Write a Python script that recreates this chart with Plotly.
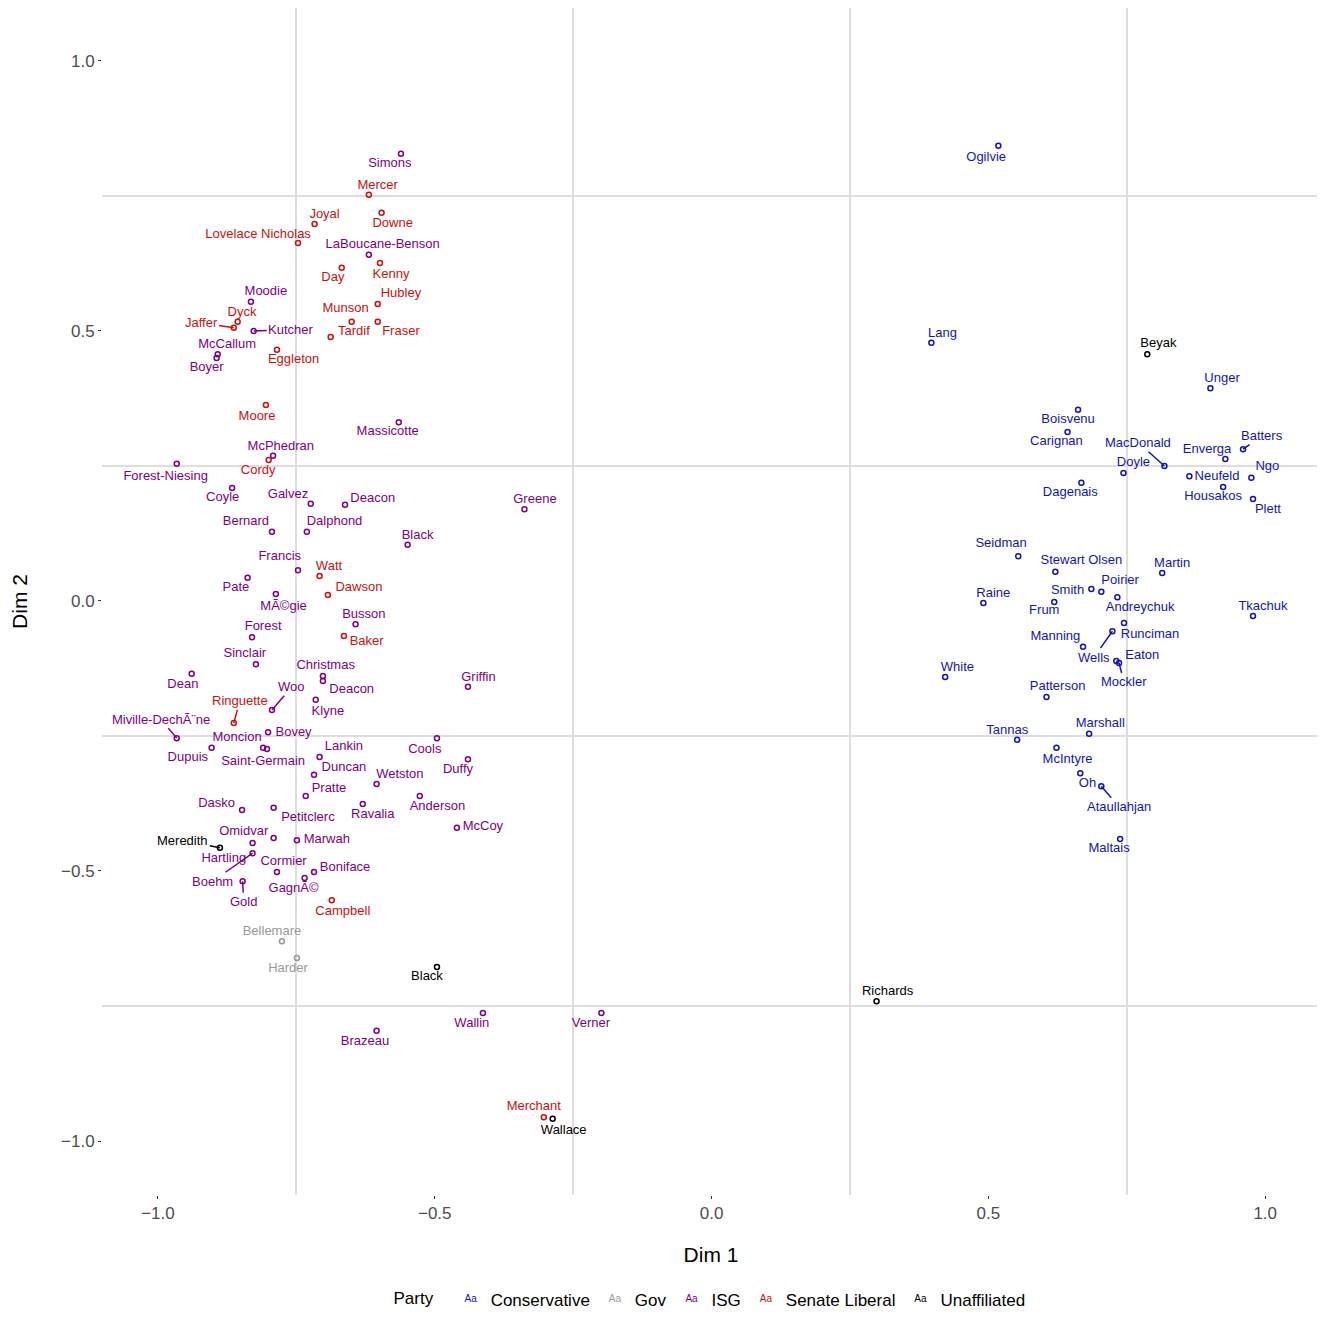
import plotly.graph_objects as go

# Senators on the two scaling dimensions, with the place each name label sits
senator = ["Mercer", "Joyal", "Downe", "Lovelace Nicholas", "Kenny", "Day", "Hubley", "Munson",
           "Fraser", "Tardif", "Dyck", "Jaffer", "Eggleton", "Moore", "Cordy", "Watt", "Dawson",
           "Baker", "Ringuette", "Campbell", "Merchant",
           "Simons", "LaBoucane-Benson", "Moodie", "Kutcher", "McCallum", "Boyer", "Massicotte",
           "McPhedran", "Forest-Niesing", "Coyle", "Galvez", "Deacon", "Bernard", "Dalphond",
           "Black", "Greene", "Francis", "Pate", "MÃ©gie", "Busson", "Forest", "Sinclair", "Dean",
           "Christmas", "Deacon", "Woo", "Klyne", "Miville-DechÃ¨ne", "Bovey", "Moncion",
           "Saint-Germain", "Dupuis", "Lankin", "Duncan", "Cools", "Griffin", "Duffy", "Wetston",
           "Pratte", "Anderson", "McCoy", "Dasko", "Petitclerc", "Ravalia", "Omidvar", "Marwah",
           "Hartling", "Cormier", "Boniface", "GagnÃ©", "Boehm", "Gold", "Wallin", "Verner",
           "Brazeau",
           "Bellemare", "Harder",
           "Meredith", "Black", "Wallace", "Richards", "Beyak",
           "Ogilvie", "Lang", "Unger", "Boisvenu", "Carignan", "MacDonald", "Doyle", "Enverga",
           "Batters", "Ngo", "Neufeld", "Housakos", "Plett", "Dagenais", "Seidman",
           "Stewart Olsen", "Martin", "Smith", "Poirier", "Andreychuk", "Raine", "Frum", "Tkachuk",
           "Runciman", "Wells", "Manning", "Eaton", "Mockler", "White", "Patterson", "Marshall",
           "Tannas", "McIntyre", "Oh", "Ataullahjan", "Maltais"]

party = (["Senate Liberal"] * 21 + ["ISG"] * 55 + ["Gov"] * 2 + ["Unaffiliated"] * 5
         + ["Conservative"] * 36)

dim1 = [-0.619, -0.717, -0.596, -0.747, -0.599, -0.668, -0.603, -0.650, -0.603, -0.688, -0.856,
        -0.863, -0.785, -0.805, -0.800, -0.708, -0.693, -0.664, -0.863, -0.686, -0.303,
        -0.561, -0.619, -0.832, -0.827, -0.892, -0.894, -0.565, -0.792, -0.966, -0.866, -0.724,
        -0.662, -0.794, -0.731, -0.549, -0.338, -0.747, -0.838, -0.787, -0.643, -0.830, -0.823,
        -0.939, -0.702, -0.702, -0.794, -0.715, -0.966, -0.801, -0.810, -0.803, -0.903, -0.708,
        -0.718, -0.496, -0.440, -0.440, -0.605, -0.733, -0.527, -0.460, -0.848, -0.791, -0.630,
        -0.791, -0.749, -0.829, -0.785, -0.718, -0.735, -0.829, -0.847, -0.413, -0.199, -0.605,
        -0.776, -0.749,
        -0.888, -0.496, -0.287, 0.298, 0.787,
        0.518, 0.397, 0.901, 0.662, 0.643, 0.818, 0.744, 0.928, 0.960, 0.975, 0.863, 0.924,
        0.978, 0.668, 0.554, 0.621, 0.814, 0.686, 0.704, 0.733, 0.491, 0.619, 0.978, 0.745,
        0.724, 0.671, 0.731, 0.736, 0.422, 0.605, 0.682, 0.552, 0.623, 0.666, 0.704, 0.738]

dim2 = [0.752, 0.698, 0.719, 0.663, 0.626, 0.617, 0.550, 0.517, 0.517, 0.489, 0.517, 0.506,
        0.465, 0.363, 0.261, 0.046, 0.011, -0.065, -0.226, -0.554, -0.956,
        0.828, 0.641, 0.554, 0.500, 0.457, 0.450, 0.331, 0.269, 0.254, 0.209, 0.180, 0.178,
        0.128, 0.128, 0.104, 0.170, 0.057, 0.043, 0.013, -0.043, -0.067, -0.117, -0.135,
        -0.139, -0.148, -0.202, -0.183, -0.254, -0.243, -0.272, -0.274, -0.272, -0.289, -0.322,
        -0.254, -0.159, -0.293, -0.339, -0.361, -0.361, -0.420, -0.387, -0.383, -0.376, -0.439,
        -0.443, -0.448, -0.502, -0.502, -0.513, -0.467, -0.519, -0.763, -0.763, -0.796,
        -0.630, -0.661,
        -0.457, -0.678, -0.959, -0.741, 0.457,
        0.843, 0.478, 0.394, 0.354, 0.313, 0.250, 0.237, 0.263, 0.281, 0.228, 0.231, 0.211,
        0.189, 0.219, 0.083, 0.054, 0.052, 0.022, 0.017, 0.007, -0.004, -0.002, -0.028, -0.041,
        -0.056, -0.085, -0.111, -0.115, -0.141, -0.178, -0.246, -0.257, -0.272, -0.319, -0.343,
        -0.441]

# label positions (repelled away from the points)
lab1 = [-0.603, -0.699, -0.576, -0.819, -0.579, -0.684, -0.561, -0.661, -0.561, -0.646, -0.848,
        -0.922, -0.755, -0.821, -0.819, -0.691, -0.637, -0.623, -0.852, -0.666, -0.321,
        -0.581, -0.594, -0.805, -0.760, -0.875, -0.912, -0.585, -0.778, -0.986, -0.883, -0.765,
        -0.612, -0.841, -0.681, -0.531, -0.319, -0.780, -0.859, -0.773, -0.628, -0.810, -0.843,
        -0.955, -0.697, -0.650, -0.758, -0.693, -0.995, -0.755, -0.857, -0.810, -0.946, -0.664,
        -0.664, -0.518, -0.421, -0.458, -0.563, -0.691, -0.495, -0.413, -0.894, -0.729, -0.612,
        -0.845, -0.695, -0.881, -0.773, -0.662, -0.755, -0.901, -0.845, -0.433, -0.218, -0.626,
        -0.794, -0.765,
        -0.955, -0.514, -0.267, 0.318, 0.807,
        0.496, 0.417, 0.922, 0.644, 0.623, 0.771, 0.762, 0.895, 0.995, 1.004, 0.913, 0.906,
        1.005, 0.648, 0.523, 0.668, 0.832, 0.643, 0.738, 0.774, 0.509, 0.601, 0.996, 0.792,
        0.691, 0.621, 0.778, 0.745, 0.444, 0.625, 0.702, 0.534, 0.643, 0.679, 0.736, 0.718]

lab2 = [0.769, 0.715, 0.698, 0.678, 0.604, 0.598, 0.569, 0.541, 0.498, 0.498, 0.533, 0.515,
        0.446, 0.341, 0.241, 0.063, 0.024, -0.076, -0.185, -0.576, -0.937,
        0.809, 0.659, 0.572, 0.502, 0.474, 0.431, 0.313, 0.285, 0.230, 0.191, 0.196, 0.189,
        0.146, 0.146, 0.120, 0.187, 0.081, 0.024, -0.011, -0.026, -0.048, -0.098, -0.156,
        -0.120, -0.165, -0.159, -0.206, -0.219, -0.244, -0.254, -0.298, -0.291, -0.270, -0.309,
        -0.276, -0.143, -0.313, -0.322, -0.348, -0.381, -0.419, -0.376, -0.402, -0.396, -0.428,
        -0.443, -0.478, -0.483, -0.494, -0.533, -0.519, -0.557, -0.783, -0.783, -0.817,
        -0.613, -0.681,
        -0.444, -0.696, -0.981, -0.724, 0.476,
        0.820, 0.494, 0.411, 0.335, 0.294, 0.293, 0.256, 0.280, 0.306, 0.248, 0.230, 0.193,
        0.169, 0.200, 0.106, 0.074, 0.069, 0.019, 0.037, -0.013, 0.013, -0.019, -0.011, -0.063,
        -0.104, -0.067, -0.102, -0.150, -0.124, -0.159, -0.228, -0.241, -0.294, -0.339, -0.381,
        -0.459]

# labels pushed far enough from their point to get a connector line
linked = {"Jaffer", "Kutcher", "Ringuette", "Woo", "Miville-DechÃ¨ne", "Meredith", "Boehm",
          "Gold", "MacDonald", "Batters", "Wells", "Mockler", "Ataullahjan"}

party_order = ["Conservative", "Gov", "ISG", "Senate Liberal", "Unaffiliated"]
party_colors = {"Conservative": "#1414b4", "Gov": "#999999", "ISG": "#800080",
                "Senate Liberal": "#cc1111", "Unaffiliated": "#000000"}

fig = go.Figure()
annotations = []

for p in party_order:
    idx = [i for i in range(len(senator)) if party[i] == p]
    col = party_colors[p]
    # the points themselves
    fig.add_trace(go.Scatter(x=[dim1[i] for i in idx], y=[dim2[i] for i in idx],
                             mode="markers", showlegend=False, hoverinfo="skip",
                             marker=dict(symbol="circle-open", size=5, color=col,
                                         line=dict(width=1.5, color=col))))
    # plain labels
    plain = [i for i in idx if senator[i] not in linked]
    fig.add_trace(go.Scatter(x=[lab1[i] for i in plain], y=[lab2[i] for i in plain],
                             text=[senator[i] for i in plain], mode="text", name=p,
                             textfont=dict(color=col, size=13, family="Liberation Sans")))
    # labels with a connector line back to their point
    for i in idx:
        if senator[i] in linked:
            annotations.append(dict(x=dim1[i], y=dim2[i], ax=lab1[i], ay=lab2[i],
                                    xref="x", yref="y", axref="x", ayref="y",
                                    text=senator[i], showarrow=True, arrowhead=0,
                                    arrowwidth=1.5, arrowcolor=col, standoff=0,
                                    font=dict(color=col, size=13, family="Liberation Sans")))

grid_col = "#dedede"
fig.update_layout(
    width=1325, height=1322,
    plot_bgcolor="white", paper_bgcolor="white",
    margin=dict(l=94, r=13, t=0, b=135),
    font=dict(family="Liberation Sans", color="#000000"),
    annotations=annotations,
    legend=dict(orientation="h", x=0.5, xanchor="center", y=-0.088, yanchor="middle",
                title=dict(text="Party  ", font=dict(size=17)), font=dict(size=17),
                itemwidth=30),
)
fig.update_xaxes(range=[-1.101, 1.099], showgrid=False, zeroline=False, showline=False,
                 tickvals=[-1, -0.5, 0, 0.5, 1], ticktext=["−1.0", "−0.5", "0.0", "0.5", "1.0"],
                 ticks="outside", ticklen=3, tickcolor="#333333",
                 tickfont=dict(size=17, color="#4d4d4d"),
                 minor=dict(dtick=0.5, tick0=0.25, showgrid=True, gridcolor=grid_col,
                            gridwidth=1.5, ticks=""),
                 title=dict(text="Dim 1", font=dict(size=21), standoff=24), automargin=False)
fig.update_yaxes(range=[-1.1, 1.098], showgrid=False, zeroline=False, showline=False,
                 tickvals=[-1, -0.5, 0, 0.5, 1], ticktext=["−1.0", "−0.5", "0.0", "0.5", "1.0"],
                 ticks="outside", ticklen=3, tickcolor="#333333",
                 tickfont=dict(size=17, color="#4d4d4d"),
                 minor=dict(dtick=0.5, tick0=0.25, showgrid=True, gridcolor=grid_col,
                            gridwidth=1.5, ticks=""),
                 title=dict(text="Dim 2", font=dict(size=21), standoff=32), automargin=False)

fig.write_html("out.html")
